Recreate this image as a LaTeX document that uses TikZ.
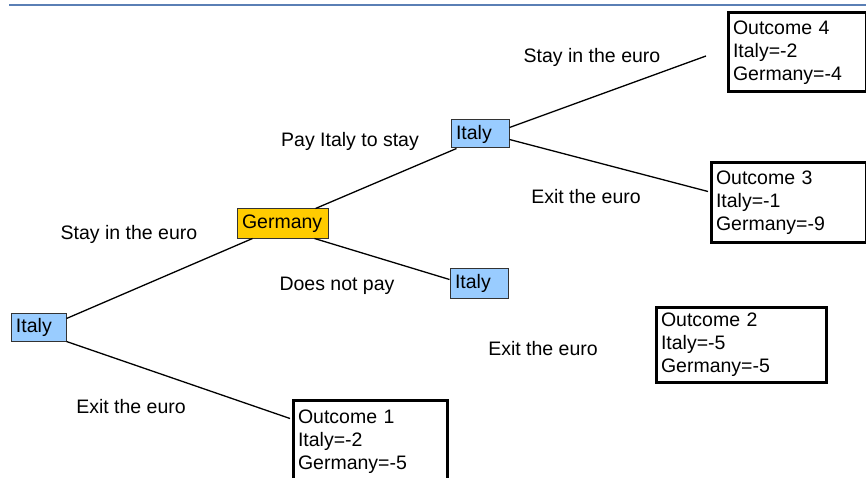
\documentclass[tikz,border=0pt]{standalone}
\usepackage{fontspec}
\setmainfont{Liberation Sans}
\usetikzlibrary{calc}
\definecolor{itblue}{HTML}{99CCFF}
\definecolor{degold}{HTML}{FFCC00}
\definecolor{titleblue}{HTML}{5A7FB5}
\begin{document}
\begin{tikzpicture}[x=1pt,y=-1pt,
  every node/.style={font=\fontsize{19.5}{23}\selectfont},
  dec/.style={draw=black!80, line width=1pt, inner ysep=0pt, inner xsep=5pt, align=left},
  itbox/.style={dec, fill=itblue, text width=48pt, minimum height=28pt},
  gebox/.style={dec, fill=degold, text width=81pt, minimum height=29pt},
  outbox/.style={draw=black, line width=3pt, inner xsep=5pt, inner ysep=0pt, align=left, anchor=north west},
  branch/.style={line width=1.3pt, black},
  lbl/.style={inner sep=0pt}
]
\useasboundingbox (0,0) rectangle (866,478);
\clip (0,0) rectangle (866,478);
% title rule
\draw[titleblue, line width=2.5pt] (9,5) -- (866,5);

% decision nodes
\node[itbox, text width=45pt] (it1) at (38.5,327) {Italy};
\node[gebox] (ger) at (282.5,223.5) {Germany};
\node[itbox] (it2) at (480,134) {Italy};
\node[itbox, minimum height=30pt] (it3) at (479,283) {Italy};

% outcomes
\node[outbox, text width=128pt, minimum height=79pt] (out4) at (726.5,11.5) {Outcome 4\\Italy=-2\\Germany=-4};
\node[outbox, text width=145pt, minimum height=79pt] (out3) at (709.5,161.5) {Outcome 3\\Italy=-1\\Germany=-9};
\node[outbox, text width=160pt, minimum height=75pt] (out2) at (654.5,305.5) {Outcome 2\\Italy=-5\\Germany=-5};
\node[outbox, text width=144pt, minimum height=83pt] (out1) at (291.5,398.5) {Outcome 1\\Italy=-2\\Germany=-5};

\coordinate (end4) at (706,56);

% branches
\draw[branch] ($(it1.north east)+(0,6)$) -- ($(ger.south west)+(16,0)$);
\draw[branch] (it1.south east) -- ($(out1.north west)+(-1.5,20)$);
\draw[branch] ($(ger.north west)+(79,0)$) -- ($(it2.south west)+(6,0)$);
\draw[branch] ($(ger.south west)+(78,0)$) -- ($(it3.north west)+(0,12)$);
\draw[branch] ($(it2.north east)+(0,8)$) -- (end4);
\draw[branch] ($(it2.north east)+(0,20)$) -- ($(out3.north west)+(-1.5,30)$);

% labels
\node[lbl] (l1) at (129,234) {Stay in the euro};
\node[lbl] (l2) at (131,407) {Exit the euro};
\node[lbl] (l3) at (350,141) {Pay Italy to stay};
\node[lbl] (l4) at (337,286) {Does not pay};
\node[lbl] (l5) at (592,57) {Stay in the euro};
\node[lbl] (l6) at (586,197) {Exit the euro};
\node[lbl] (l7) at (543,349) {Exit the euro};
\end{tikzpicture}
\end{document}
